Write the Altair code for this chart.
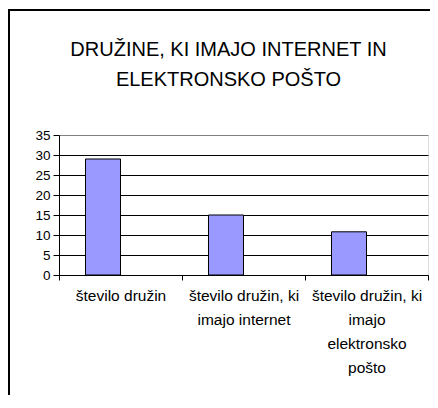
import json
import altair as alt
import pandas as pd

# ---- data ----
categories = [
    "število družin",
    "število družin, ki imajo internet",
    "število družin, ki imajo elektronsko pošto",
]
label_lines = [
    ["število družin"],
    ["število družin, ki", "imajo internet"],
    ["število družin, ki", "imajo", "elektronsko", "pošto"],
]
values = [29, 15, 10.8]
series = ["Serija1", "Serija2"]
y_ticks = [0, 5, 10, 15, 20, 25, 30, 35]
title_lines = ["DRUŽINE, KI IMAJO INTERNET IN", "ELEKTRONSKO POŠTO"]

df = pd.DataFrame({"kategorija": categories, "vrednost": values, "serija": series[0]})

# label expression mapping each category to its wrapped lines
expr = "datum.value"
for cat, lines in reversed(list(zip(categories, label_lines))):
    expr = (
        f"datum.value == {json.dumps(cat, ensure_ascii=False)} ? "
        f"{json.dumps(lines, ensure_ascii=False)} : ({expr})"
    )

FONT = "Liberation Sans"

bars = alt.Chart(df).mark_bar(color="#9999ff", stroke="#000000", strokeWidth=1).encode(
    x=alt.X(
        "kategorija:N",
        sort=categories,
        scale=alt.Scale(domain=categories, paddingInner=0, paddingOuter=0),
        axis=alt.Axis(
            title=None,
            labelAngle=0,
            tickBand="extent",
            labelExpr=expr,
            labelFont=FONT,
            labelFontSize=15.5,
            labelColor="#000000",
            labelLineHeight=24,
            labelPadding=8,
            labelLimit=0,
            domainColor="#000000",
            tickColor="#000000",
            tickSize=5,
            grid=False,
        ),
    ),
    xOffset=alt.XOffset(
        "serija:N",
        scale=alt.Scale(domain=series, paddingInner=0, paddingOuter=0.757),
    ),
    y=alt.Y(
        "vrednost:Q",
        scale=alt.Scale(domain=[0, 35], nice=False, zero=True),
        axis=alt.Axis(
            title=None,
            values=y_ticks,
            labelFont=FONT,
            labelFontSize=13.5,
            labelColor="#000000",
            labelPadding=3,
            domainColor="#000000",
            tickColor="#000000",
            tickSize=6,
            grid=True,
            gridColor=alt.condition("datum.value == 35", alt.value("#808080"), alt.value("#000000")),
            gridOpacity=1,
            gridWidth=1,
        ),
    ),
)

frame_df = pd.DataFrame({"f": [0]})
frame_left = alt.Chart(frame_df).mark_rule(color="#000000", strokeWidth=2).encode(
    x=alt.value(-50), y=alt.value(-126), y2=alt.value(400)
)
frame_top = alt.Chart(frame_df).mark_rule(color="#000000", strokeWidth=2).encode(
    y=alt.value(-125), x=alt.value(-51), x2=alt.value(500)
)

chart = (
    alt.layer(bars, frame_left, frame_top)
    .properties(
        width=369,
        height=140,
        autosize=alt.AutoSizeParams(type="none"),
        padding={"left": 51, "top": 127, "right": 2, "bottom": 120},
        title=alt.TitleParams(
            text=title_lines,
            font=FONT,
            fontSize=20,
            fontWeight="normal",
            color="#000000",
            anchor="middle",
            baseline="alphabetic",
            lineHeight=30,
            offset=-98,
            dx=-15,
        ),
    )
    .configure_view(fill="#c0c0c0", stroke="#808080", strokeWidth=1)
    .configure(background="#ffffff")
)

chart.save("out.html", embed_options={"renderer": "svg", "actions": False})
